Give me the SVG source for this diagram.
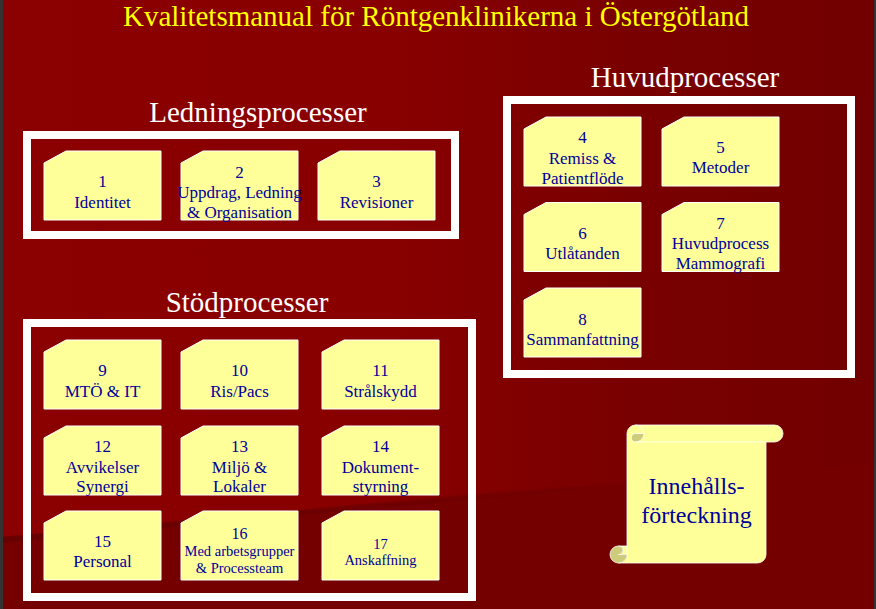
<svg xmlns="http://www.w3.org/2000/svg" width="876" height="609" viewBox="0 0 876 609">
<defs>
<linearGradient id="bg" x1="0" y1="0" x2="1" y2="0">
<stop offset="0" stop-color="#8b0000"/>
<stop offset="0.45" stop-color="#880000"/>
<stop offset="0.72" stop-color="#790000"/>
<stop offset="1" stop-color="#720000"/>
</linearGradient>
<linearGradient id="band" x1="0" y1="0" x2="1" y2="0">
<stop offset="0" stop-color="#660000" stop-opacity="0.9"/>
<stop offset="0.7" stop-color="#660000" stop-opacity="0.4"/>
<stop offset="1" stop-color="#660000" stop-opacity="0"/>
</linearGradient>
<style>
.nd{fill:#ffff99;stroke:#ffffff;stroke-width:1}
.box{fill:none;stroke:#ffffff;stroke-width:8}
.t{font-family:"Liberation Serif","Times New Roman",serif;font-size:17px;fill:#000099;text-anchor:middle}
.s{font-size:14.5px}
.h{font-family:"Liberation Serif","Times New Roman",serif;font-size:29px;fill:#ffffff;text-anchor:middle}
</style>
</defs>
<rect x="0" y="0" width="876" height="609" fill="url(#bg)"/>
<path d="M0,538 L560,488 L876,462 L876,609 L0,609 Z" fill="#740000"/>
<path d="M0,540 L600,485" stroke="url(#band)" stroke-width="6" fill="none"/>
<rect x="0" y="0" width="3" height="609" fill="#333333"/>
<rect x="874" y="0" width="2" height="609" fill="#333333"/>

<text x="436" y="26" font-family="Liberation Serif, Times New Roman, serif" font-size="29" fill="#ffff00" text-anchor="middle">Kvalitetsmanual för Röntgenklinikerna i Östergötland</text>

<g id="ledningsprocesser">
<text class="h" x="258" y="122">Ledningsprocesser</text>
<rect class="box" x="27" y="135" width="428" height="100"/>
</g>
<g id="huvudprocesser">
<text class="h" x="685" y="87">Huvudprocesser</text>
<rect class="box" x="507" y="100" width="344" height="274"/>
</g>
<g id="stodprocesser">
<text class="h" x="247" y="312">Stödprocesser</text>
<rect class="box" x="27" y="323" width="445" height="274"/>
</g>

<g id="connectors"/>

<g id="n1" transform="translate(44,151)"><path class="nd" d="M0,12 L22,0 H117 V69 H0 Z"/><text class="t"><tspan x="58.5" y="36">1</tspan><tspan x="58.5" y="56.5">Identitet</tspan></text></g>
<g id="n2" transform="translate(181,151)"><path class="nd" d="M0,12 L22,0 H117 V69 H0 Z"/><text class="t"><tspan x="58.5" y="26.5">2</tspan><tspan x="58.5" y="47">Uppdrag, Ledning</tspan><tspan x="58.5" y="66.5">&amp; Organisation</tspan></text></g>
<g id="n3" transform="translate(318,151)"><path class="nd" d="M0,12 L22,0 H117 V69 H0 Z"/><text class="t"><tspan x="58.5" y="36">3</tspan><tspan x="58.5" y="56.5">Revisioner</tspan></text></g>

<g id="n4" transform="translate(524,117)"><path class="nd" d="M0,12 L22,0 H117 V69 H0 Z"/><text class="t"><tspan x="58.5" y="26">4</tspan><tspan x="58.5" y="46.5">Remiss &amp;</tspan><tspan x="58.5" y="66.5">Patientflöde</tspan></text></g>
<g id="n5" transform="translate(662,117)"><path class="nd" d="M0,12 L22,0 H117 V69 H0 Z"/><text class="t"><tspan x="58.5" y="35.5">5</tspan><tspan x="58.5" y="56">Metoder</tspan></text></g>
<g id="n6" transform="translate(524,202.5)"><path class="nd" d="M0,12 L22,0 H117 V69 H0 Z"/><text class="t"><tspan x="58.5" y="36">6</tspan><tspan x="58.5" y="56">Utlåtanden</tspan></text></g>
<g id="n7" transform="translate(662,202.5)"><path class="nd" d="M0,12 L22,0 H117 V69 H0 Z"/><text class="t"><tspan x="58.5" y="26">7</tspan><tspan x="58.5" y="46">Huvudprocess</tspan><tspan x="58.5" y="66">Mammografi</tspan></text></g>
<g id="n8" transform="translate(524,288)"><path class="nd" d="M0,12 L22,0 H117 V69 H0 Z"/><text class="t"><tspan x="58.5" y="37">8</tspan><tspan x="58.5" y="56.5">Sammanfattning</tspan></text></g>

<g id="n9" transform="translate(44,340)"><path class="nd" d="M0,12 L22,0 H117 V69 H0 Z"/><text class="t"><tspan x="58.5" y="35.5">9</tspan><tspan x="58.5" y="56.5">MTÖ &amp; IT</tspan></text></g>
<g id="n10" transform="translate(181,340)"><path class="nd" d="M0,12 L22,0 H117 V69 H0 Z"/><text class="t"><tspan x="58.5" y="35.5">10</tspan><tspan x="58.5" y="56.5">Ris/Pacs</tspan></text></g>
<g id="n11" transform="translate(322,340)"><path class="nd" d="M0,12 L22,0 H117 V69 H0 Z"/><text class="t"><tspan x="58.5" y="35.5">11</tspan><tspan x="58.5" y="56.5">Strålskydd</tspan></text></g>
<g id="n12" transform="translate(44,426)"><path class="nd" d="M0,12 L22,0 H117 V69 H0 Z"/><text class="t"><tspan x="58.5" y="26">12</tspan><tspan x="58.5" y="46.5">Avvikelser</tspan><tspan x="58.5" y="66">Synergi</tspan></text></g>
<g id="n13" transform="translate(181,426)"><path class="nd" d="M0,12 L22,0 H117 V69 H0 Z"/><text class="t"><tspan x="58.5" y="26">13</tspan><tspan x="58.5" y="46.5">Miljö &amp;</tspan><tspan x="58.5" y="66">Lokaler</tspan></text></g>
<g id="n14" transform="translate(322,426)"><path class="nd" d="M0,12 L22,0 H117 V69 H0 Z"/><text class="t"><tspan x="58.5" y="26">14</tspan><tspan x="58.5" y="46.5">Dokument-</tspan><tspan x="58.5" y="66">styrning</tspan></text></g>
<g id="n15" transform="translate(44,511)"><path class="nd" d="M0,12 L22,0 H117 V69 H0 Z"/><text class="t"><tspan x="58.5" y="36">15</tspan><tspan x="58.5" y="56">Personal</tspan></text></g>
<g id="n16" transform="translate(181,511)"><path class="nd" d="M0,12 L22,0 H117 V69 H0 Z"/><text class="t s"><tspan x="58.5" y="28" font-size="16">16</tspan><tspan x="58.5" y="45">Med arbetsgrupper</tspan><tspan x="58.5" y="62">&amp; Processteam</tspan></text></g>
<g id="n17" transform="translate(322,511)"><path class="nd" d="M0,12 L22,0 H117 V69 H0 Z"/><text class="t s"><tspan x="58.5" y="38">17</tspan><tspan x="58.5" y="54">Anskaffning</tspan></text></g>

<g id="innehall">
<path fill="#ffff99" d="M618.5,563 A8.5,8.5 0 0 0 627,554.5 L618.5,554.5 A4.25,4.25 0 0 0 618.5,546 L627,546 L627,433.5 A8.5,8.5 0 0 1 635.5,425 L774.5,425 A8.5,8.5 0 0 1 774.5,442 L766,442 L766,554.5 A8.5,8.5 0 0 1 757.5,563 Z M644,433.5 A8.5,8.5 0 0 1 635.5,442 A4.25,4.25 0 0 1 635.5,433.5 Z"/>
<path fill="#cccc7a" d="M644,433.5 A8.5,8.5 0 0 1 635.5,442 A4.25,4.25 0 0 1 635.5,433.5 Z M627,554.5 A8.5,8.5 0 1 1 618.5,546 A4.25,4.25 0 0 1 618.5,554.5 Z"/>
<path fill="none" stroke="#ffffff" stroke-opacity="0.8" stroke-width="1" d="M627,546 L627,433.5 A8.5,8.5 0 0 1 635.5,425 L774.5,425 A8.5,8.5 0 0 1 774.5,442 L766,442 L766,554.5 A8.5,8.5 0 0 1 757.5,563 L618.5,563 A8.5,8.5 0 0 1 618.5,546 Z M635.5,425 A8.5,8.5 0 0 1 635.5,442 A4.25,4.25 0 0 1 635.5,433.5 L644,433.5 M766,442 L635.5,442 M618.5,546 A4.25,4.25 0 0 1 618.5,554.5 L627,554.5 M618.5,563 A8.5,8.5 0 0 0 627,554.5 L627,546"/>
<text font-family="Liberation Serif, Times New Roman, serif" font-size="24" fill="#000099" text-anchor="middle"><tspan x="696.5" y="494">Innehålls-</tspan><tspan x="696.5" y="523">förteckning</tspan></text>
</g>
</svg>
